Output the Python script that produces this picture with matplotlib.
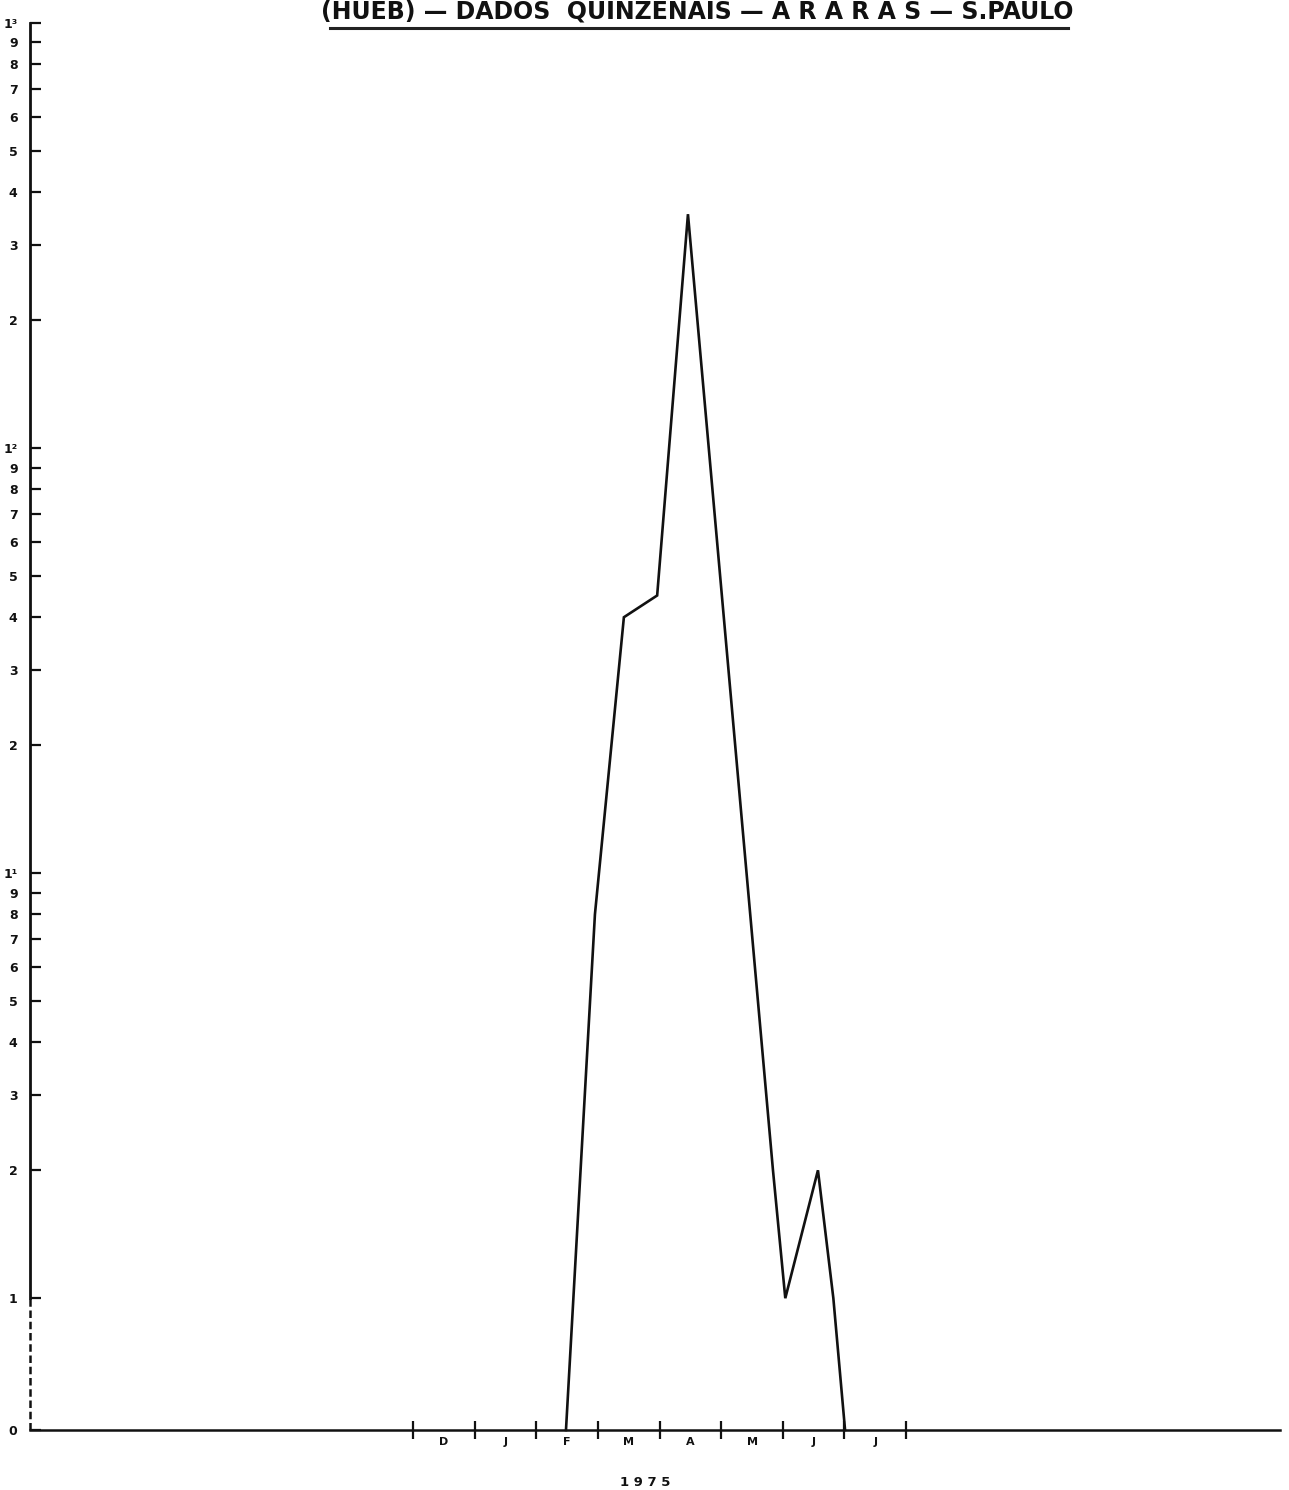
import numpy as np
import matplotlib
matplotlib.use("Agg")
import matplotlib.pyplot as plt
from matplotlib.ticker import FixedLocator, FixedFormatter
from matplotlib.lines import Line2D

# ---------------- data ----------------
# x position in months counted from 1 Dec 1974 (tick 0 = Dec 1, 1 = Jan 1, ...)
sample_pos = [2.48, 2.95, 3.42, 3.96, 4.46, 5.84, 6.04, 6.57, 6.82, 7.01]
sample_counts = [0, 8, 40, 45, 355, 2, 1, 2, 1, 0]

month_labels = ["D", "J", "F", "M", "A", "M", "J", "J"]
month_bounds = [0, 1, 2, 3, 4, 5, 6, 7, 8]

y_ticks = [0, 1, 2, 3, 4, 5, 6, 7, 8, 9,
           10, 20, 30, 40, 50, 60, 70, 80, 90,
           100, 200, 300, 400, 500, 600, 700, 800, 900, 1000]
y_tick_labels = ["0", "1", "2", "3", "4", "5", "6", "7", "8", "9",
                 "1¹", "2", "3", "4", "5", "6", "7", "8", "9",
                 "1²", "2", "3", "4", "5", "6", "7", "8", "9", "1³"]

title = "(HUEB) — DADOS  QUINZENAIS — A R A R A S — S.PAULO"
year_label = "1 9 7 5"

# ---------------- scale: log above 1, zero placed 0.31 decade below 1 ----------------
ZERO_GAP = 0.31

def fwd(v):
    v = np.asarray(v, dtype=float)
    return np.where(v >= 1, np.log10(np.maximum(v, 1.0)), (v - 1.0) * ZERO_GAP)

def inv(t):
    t = np.asarray(t, dtype=float)
    return np.where(t >= 0, np.power(10.0, np.maximum(t, 0.0)), t / ZERO_GAP + 1.0)

W, H = 1289, 1490
fig = plt.figure(figsize=(W / 100, H / 100), dpi=100, facecolor="white")
ax_left, ax_right = 30 / W, 1280 / W
ax_bottom, ax_top = (H - 1430) / H, (H - 23) / H
ax = fig.add_axes([ax_left, ax_bottom, ax_right - ax_left, ax_top - ax_bottom])
ax.set_facecolor("none")

ax.set_yscale("function", functions=(fwd, inv))
ax.set_ylim(0, 1000)
ax.set_xlim(-6.22, 14.07)

# data line
ax.plot(sample_pos, sample_counts, color="#111111", lw=1.9, solid_joinstyle="miter",
        clip_on=False, zorder=3)

# spines
for s in ["top", "right"]:
    ax.spines[s].set_visible(False)
ax.spines["left"].set_linewidth(2.0)
ax.spines["left"].set_bounds(1, 1000)
ax.spines["bottom"].set_linewidth(1.8)
ax.spines["left"].set_color("#111111")
ax.spines["bottom"].set_color("#111111")
# dashed lower part of y axis (between 0 and 1)
frac1 = (fwd(1) - fwd(0)) / (fwd(1000) - fwd(0))
ax.axvline(ax.get_xlim()[0], ymin=0, ymax=float(frac1), color="#111111", lw=1.8,
           ls=(0, (3, 1.5)), clip_on=False)

# y ticks
ax.yaxis.set_major_locator(FixedLocator(y_ticks))
ax.yaxis.set_major_formatter(FixedFormatter(y_tick_labels))
ax.yaxis.set_minor_locator(FixedLocator([]))
ax.tick_params(axis="y", which="major", direction="in", length=8, width=1.6,
               color="#111111", pad=9, labelsize=9, labelcolor="#111111")
ax.tick_params(axis="y", which="major", left=True, right=False)
for lab in ax.get_yticklabels():
    lab.set_fontweight("bold")
yl = ax.get_yticklabels()
yl[0].set_visible(True)

# x ticks: month boundaries as major ticks, month letters at centers
ax.xaxis.set_major_locator(FixedLocator(month_bounds))
ax.xaxis.set_major_formatter(FixedFormatter([""] * len(month_bounds)))
ax.xaxis.set_minor_locator(FixedLocator([b + 0.5 for b in month_bounds[:-1]]))
ax.xaxis.set_minor_formatter(FixedFormatter(month_labels))
ax.tick_params(axis="x", which="major", direction="inout", length=13, width=1.6,
               color="#111111")
ax.tick_params(axis="x", which="minor", length=0, pad=5, labelsize=8,
               labelcolor="#111111")
for lab in ax.get_xticklabels(minor=True):
    lab.set_fontweight("bold")

# year label
fig.text(645 / W, 1 - 1482 / H, year_label, ha="center", va="center",
         fontsize=9.5, fontweight="bold", color="#111111")

# title and underline
fig.text(697 / W, 1 - 12 / H, title, ha="center", va="center", fontsize=17,
         fontweight="bold", color="#111111",
         family=["Liberation Sans Narrow", "DejaVu Sans"])
fig.add_artist(Line2D([330 / W, 1068 / W], [1 - 28 / H, 1 - 28 / H],
                      transform=fig.transFigure, color="#222222", lw=2.2))

fig.savefig("out.png", dpi=100, facecolor="white")
